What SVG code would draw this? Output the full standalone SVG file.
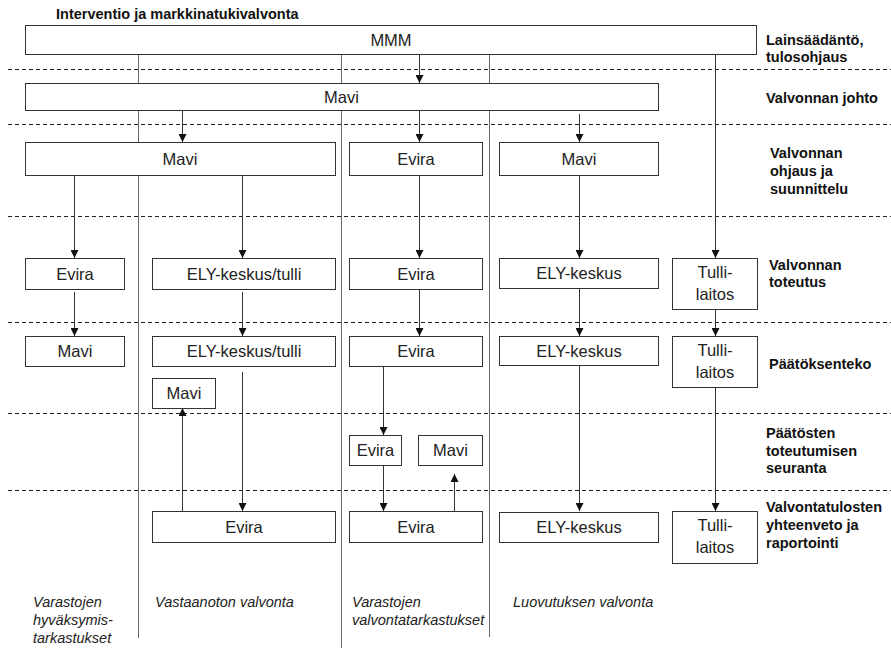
<svg xmlns="http://www.w3.org/2000/svg" width="891" height="648" viewBox="0 0 891 648">
<style>
.bg{fill:#fff}
.box{fill:#fff;stroke:#333;stroke-width:1}
.t{font-family:"Liberation Sans",Arial,sans-serif;font-size:16.5px;fill:#222;text-anchor:middle}
.lbl{font-family:"Liberation Sans",Arial,sans-serif;font-size:14.5px;font-weight:bold;fill:#111}
.it{font-family:"Liberation Sans",Arial,sans-serif;font-size:14.5px;font-style:italic;fill:#222}
.dash{stroke:#222;stroke-width:1;stroke-dasharray:4 3;fill:none}
.lane{stroke:#666;stroke-width:1;fill:none}
.c{stroke:#333;stroke-width:1;fill:none;marker-end:url(#ah)}
</style>
<defs>
<marker id="ah" markerUnits="userSpaceOnUse" markerWidth="8" markerHeight="8" refX="8" refY="4" orient="auto">
<path d="M0,0 L8,4 L0,8 z" fill="#111"/>
</marker>
</defs>
<rect class="bg" x="0" y="0" width="891" height="648"/>
<text class="lbl" x="56" y="19">Interventio ja markkinatukivalvonta</text>
<g id="swimlanes">
<line class="dash" x1="8" y1="69.5" x2="891" y2="69.5"/>
<line class="dash" x1="8" y1="124.5" x2="891" y2="124.5"/>
<line class="dash" x1="8" y1="216.5" x2="891" y2="216.5"/>
<line class="dash" x1="8" y1="322.5" x2="891" y2="322.5"/>
<line class="dash" x1="8" y1="413.5" x2="891" y2="413.5"/>
<line class="dash" x1="8" y1="490.5" x2="891" y2="490.5"/>
<line class="lane" x1="138.5" y1="54" x2="138.5" y2="638"/>
<line class="lane" x1="341.5" y1="54" x2="341.5" y2="648"/>
<line class="lane" x1="489.5" y1="54" x2="489.5" y2="637"/>
</g>
<g id="connectors">
<line class="c" x1="419.5" y1="54" x2="419.5" y2="83"/>
<line class="c" x1="182.5" y1="110" x2="182.5" y2="142"/>
<line class="c" x1="419.5" y1="110" x2="419.5" y2="142"/>
<line class="c" x1="579.5" y1="114" x2="579.5" y2="142"/>
<line class="c" x1="715.5" y1="54" x2="715.5" y2="258"/>
<line class="c" x1="74.5" y1="175" x2="74.5" y2="258"/>
<line class="c" x1="242.5" y1="175" x2="242.5" y2="258"/>
<line class="c" x1="419.5" y1="175" x2="419.5" y2="258"/>
<line class="c" x1="579.5" y1="175" x2="579.5" y2="258"/>
<line class="c" x1="74.5" y1="292" x2="74.5" y2="336"/>
<line class="c" x1="242.5" y1="292" x2="242.5" y2="336"/>
<line class="c" x1="419.5" y1="289" x2="419.5" y2="336"/>
<line class="c" x1="579.5" y1="288" x2="579.5" y2="336"/>
<line class="c" x1="715.5" y1="309" x2="715.5" y2="336"/>
<line class="c" x1="242.5" y1="372" x2="242.5" y2="511"/>
<line class="c" x1="182.5" y1="511" x2="182.5" y2="408"/>
<line class="c" x1="383.5" y1="366" x2="383.5" y2="435"/>
<line class="c" x1="383.5" y1="465" x2="383.5" y2="511"/>
<line class="c" x1="454.5" y1="511" x2="454.5" y2="474"/>
<line class="c" x1="579.5" y1="365" x2="579.5" y2="511"/>
<line class="c" x1="715.5" y1="387" x2="715.5" y2="511"/>
</g>
<g id="n-mmm"><rect class="box" x="25.5" y="25.5" width="731" height="29"/><text class="t" x="391" y="46">MMM</text></g>
<g id="n-mavi-johto"><rect class="box" x="25.5" y="83.5" width="633" height="27"/><text class="t" x="341.5" y="103">Mavi</text></g>
<g id="n-mavi-ohjaus1"><rect class="box" x="25.5" y="142.5" width="310" height="33"/><text class="t" x="180" y="165">Mavi</text></g>
<g id="n-evira-ohjaus"><rect class="box" x="349.5" y="142.5" width="133" height="33"/><text class="t" x="416" y="165">Evira</text></g>
<g id="n-mavi-ohjaus2"><rect class="box" x="499.5" y="142.5" width="159" height="33"/><text class="t" x="579" y="165">Mavi</text></g>
<g id="n-evira-tot1"><rect class="box" x="25.5" y="258.5" width="99" height="31"/><text class="t" x="75" y="280">Evira</text></g>
<g id="n-ely-tot1"><rect class="box" x="152.5" y="258.5" width="183" height="31"/><text class="t" x="244" y="280">ELY-keskus/tulli</text></g>
<g id="n-evira-tot2"><rect class="box" x="349.5" y="258.5" width="133" height="31"/><text class="t" x="416" y="280">Evira</text></g>
<g id="n-ely-tot2"><rect class="box" x="499.5" y="258.5" width="159" height="30"/><text class="t" x="579" y="279">ELY-keskus</text></g>
<g id="n-tulli-tot"><rect class="box" x="672.5" y="258.5" width="85" height="51"/><text class="t" x="715" y="278">Tulli-</text><text class="t" x="715" y="300">laitos</text></g>
<g id="n-mavi-paat"><rect class="box" x="25.5" y="336.5" width="99" height="30"/><text class="t" x="75" y="357">Mavi</text></g>
<g id="n-ely-paat1"><rect class="box" x="152.5" y="336.5" width="183" height="30"/><text class="t" x="244" y="357">ELY-keskus/tulli</text></g>
<g id="n-evira-paat"><rect class="box" x="349.5" y="336.5" width="133" height="30"/><text class="t" x="416" y="357">Evira</text></g>
<g id="n-ely-paat2"><rect class="box" x="499.5" y="336.5" width="159" height="29"/><text class="t" x="579" y="357">ELY-keskus</text></g>
<g id="n-tulli-paat"><rect class="box" x="672.5" y="336.5" width="85" height="51"/><text class="t" x="715" y="356">Tulli-</text><text class="t" x="715" y="378">laitos</text></g>
<g id="n-mavi-seur1"><rect class="box" x="152.5" y="378.5" width="63" height="30"/><text class="t" x="184" y="399">Mavi</text></g>
<g id="n-evira-seur"><rect class="box" x="349.5" y="435.5" width="52" height="30"/><text class="t" x="375.5" y="456">Evira</text></g>
<g id="n-mavi-seur2"><rect class="box" x="418.5" y="435.5" width="64" height="30"/><text class="t" x="450.5" y="456">Mavi</text></g>
<g id="n-evira-rap1"><rect class="box" x="152.5" y="511.5" width="183" height="31"/><text class="t" x="244" y="533">Evira</text></g>
<g id="n-evira-rap2"><rect class="box" x="349.5" y="511.5" width="133" height="31"/><text class="t" x="416" y="533">Evira</text></g>
<g id="n-ely-rap"><rect class="box" x="499.5" y="512.5" width="159" height="30"/><text class="t" x="579" y="533">ELY-keskus</text></g>
<g id="n-tulli-rap"><rect class="box" x="672.5" y="511.5" width="85" height="52"/><text class="t" x="715" y="531">Tulli-</text><text class="t" x="715" y="553">laitos</text></g>
<g id="row-labels">
<text class="lbl" x="766" y="45">Lainsäädäntö,</text>
<text class="lbl" x="766" y="62">tulosohjaus</text>
<text class="lbl" x="766" y="103">Valvonnan johto</text>
<text class="lbl" x="770" y="158">Valvonnan</text>
<text class="lbl" x="770" y="176">ohjaus ja</text>
<text class="lbl" x="770" y="194">suunnittelu</text>
<text class="lbl" x="769" y="270">Valvonnan</text>
<text class="lbl" x="769" y="287">toteutus</text>
<text class="lbl" x="769" y="369">Päätöksenteko</text>
<text class="lbl" x="766" y="438">Päätösten</text>
<text class="lbl" x="766" y="456">toteutumisen</text>
<text class="lbl" x="766" y="473">seuranta</text>
<text class="lbl" x="766" y="512">Valvontatulosten</text>
<text class="lbl" x="766" y="530">yhteenveto ja</text>
<text class="lbl" x="766" y="548">raportointi</text>
</g>
<g id="lane-labels">
<text class="it" x="33" y="607">Varastojen</text>
<text class="it" x="33" y="625">hyväksymis-</text>
<text class="it" x="33" y="643">tarkastukset</text>
<text class="it" x="155" y="607">Vastaanoton valvonta</text>
<text class="it" x="352" y="607">Varastojen</text>
<text class="it" x="352" y="625">valvontatarkastukset</text>
<text class="it" x="513" y="607">Luovutuksen valvonta</text>
</g>
</svg>
